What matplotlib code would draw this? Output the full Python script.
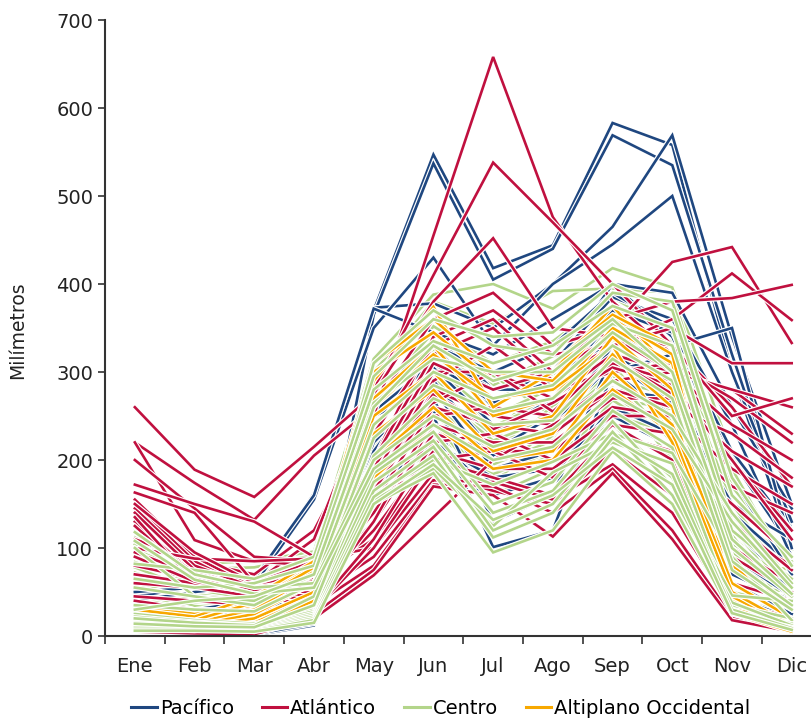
import matplotlib
matplotlib.use("Agg")
import matplotlib.pyplot as plt
import matplotlib.patheffects as pe
from matplotlib.lines import Line2D

plt.rcParams['font.family'] = ['DejaVu Sans']

meses = ["Ene", "Feb", "Mar", "Abr", "May", "Jun", "Jul", "Ago", "Sep", "Oct", "Nov", "Dic"]

# lluvia mensual por estacion (mm)
pacifico = [
    [10, 5, 2, 15, 370, 547, 418, 444, 583, 558, 300, 100],
    [12, 8, 5, 20, 365, 537, 405, 440, 569, 535, 320, 120],
    [45, 55, 60, 162, 373, 378, 350, 400, 465, 569, 340, 150],
    [40, 50, 58, 155, 350, 430, 330, 400, 445, 500, 300, 130],
    [50, 55, 65, 160, 372, 345, 320, 360, 400, 390, 260, 145],
    [25, 20, 15, 90, 300, 345, 280, 300, 400, 340, 200, 100],
    [20, 15, 10, 60, 260, 330, 260, 310, 385, 360, 240, 90],
    [15, 10, 8, 30, 220, 290, 210, 250, 350, 300, 120, 60],
    [5, 3, 1, 12, 180, 250, 101, 120, 300, 250, 80, 30],
    [8, 5, 3, 20, 200, 270, 130, 160, 320, 280, 110, 50],
    [30, 25, 20, 50, 240, 305, 240, 230, 330, 290, 140, 80],
    [35, 30, 40, 80, 280, 330, 300, 330, 390, 350, 180, 70],
    [18, 12, 9, 40, 250, 280, 190, 210, 300, 320, 70, 40],
    [22, 18, 14, 45, 230, 260, 170, 200, 280, 270, 150, 110],
    [10, 6, 4, 25, 190, 230, 160, 180, 260, 230, 60, 25],
    [28, 22, 16, 70, 270, 320, 280, 280, 360, 330, 350, 100],
    [14, 10, 6, 28, 210, 300, 230, 270, 340, 310, 90, 45],
    [24, 16, 12, 35, 235, 255, 205, 240, 310, 265, 100, 55],
    [32, 28, 25, 55, 255, 310, 265, 290, 370, 345, 210, 120],
    [6, 4, 2, 14, 170, 220, 180, 190, 250, 215, 45, 20],
]

atlantico = [
    [110, 85, 70, 120, 250, 455, 658, 476, 380, 320, 200, 120],
    [95, 70, 60, 110, 280, 410, 538, 470, 400, 330, 260, 170],
    [260, 189, 158, 215, 275, 380, 452, 350, 340, 300, 280, 230],
    [220, 174, 132, 205, 260, 360, 390, 330, 350, 425, 442, 333],
    [220, 109, 85, 80, 200, 340, 370, 320, 330, 360, 412, 359],
    [200, 145, 90, 85, 230, 330, 360, 300, 360, 380, 384, 399],
    [172, 150, 130, 90, 180, 300, 300, 270, 320, 300, 280, 260],
    [163, 140, 60, 70, 170, 290, 330, 280, 300, 310, 270, 220],
    [155, 90, 55, 75, 160, 280, 250, 240, 290, 300, 240, 200],
    [150, 85, 50, 70, 150, 260, 240, 230, 280, 260, 230, 180],
    [145, 80, 55, 60, 140, 240, 220, 220, 270, 270, 210, 170],
    [140, 75, 50, 55, 130, 230, 210, 210, 260, 250, 190, 150],
    [130, 70, 45, 50, 120, 210, 190, 190, 240, 230, 170, 140],
    [125, 65, 55, 65, 110, 200, 180, 160, 230, 210, 150, 90],
    [100, 88, 85, 88, 100, 185, 165, 150, 210, 160, 60, 40],
    [80, 65, 50, 45, 90, 177, 175, 155, 195, 140, 30, 10],
    [60, 55, 45, 35, 80, 172, 170, 140, 190, 120, 22, 7],
    [45, 40, 35, 25, 75, 170, 160, 113, 185, 110, 18, 5],
    [5, 3, 2, 20, 69, 135, 200, 240, 280, 260, 100, 60],
    [10, 8, 5, 30, 100, 200, 210, 180, 240, 200, 40, 20],
    [150, 95, 60, 85, 190, 310, 280, 300, 340, 330, 250, 270],
    [135, 60, 50, 75, 200, 320, 350, 290, 330, 350, 310, 310],
    [70, 60, 50, 40, 130, 250, 260, 250, 310, 290, 120, 80],
    [40, 30, 30, 30, 110, 220, 230, 200, 250, 250, 90, 50],
    [118, 72, 52, 62, 175, 275, 235, 265, 305, 285, 200, 110],
    [90, 62, 48, 58, 165, 265, 300, 255, 315, 275, 130, 75],
]

centro = [
    [120, 82, 85, 96, 315, 388, 400, 372, 418, 396, 205, 98],
    [112, 76, 78, 92, 300, 380, 355, 392, 395, 390, 170, 85],
    [104, 62, 70, 88, 250, 352, 310, 335, 385, 345, 110, 82],
    [98, 70, 57, 75, 290, 320, 285, 318, 340, 335, 150, 60],
    [90, 58, 50, 84, 272, 345, 296, 250, 362, 318, 190, 70],
    [84, 60, 46, 72, 230, 326, 268, 298, 300, 305, 132, 90],
    [78, 52, 42, 66, 255, 280, 230, 292, 338, 260, 122, 45],
    [72, 48, 38, 62, 248, 306, 250, 282, 332, 288, 80, 55],
    [68, 42, 36, 56, 210, 292, 238, 270, 322, 282, 104, 52],
    [62, 40, 33, 52, 236, 260, 200, 262, 290, 274, 96, 30],
    [58, 36, 30, 50, 228, 282, 228, 225, 308, 230, 60, 43],
    [52, 34, 29, 46, 190, 276, 222, 248, 270, 258, 86, 75],
    [48, 30, 26, 42, 218, 240, 180, 240, 296, 220, 140, 36],
    [44, 28, 24, 40, 212, 262, 208, 200, 260, 246, 50, 34],
    [40, 26, 22, 38, 180, 256, 175, 228, 282, 200, 70, 65],
    [36, 24, 20, 36, 200, 225, 195, 222, 250, 232, 40, 28],
    [32, 22, 18, 34, 195, 245, 160, 190, 268, 226, 115, 25],
    [28, 20, 16, 32, 170, 210, 184, 210, 240, 180, 58, 50],
    [25, 18, 14, 30, 185, 232, 150, 175, 256, 214, 35, 20],
    [22, 16, 12, 28, 160, 200, 172, 198, 230, 208, 90, 18],
    [18, 14, 10, 26, 175, 222, 140, 165, 244, 170, 46, 40],
    [15, 12, 9, 24, 155, 190, 125, 186, 220, 196, 28, 14],
    [12, 10, 8, 22, 165, 215, 120, 150, 232, 160, 38, 12],
    [10, 9, 7, 20, 150, 185, 95, 120, 210, 150, 25, 10],
    [8, 8, 6, 18, 158, 205, 112, 140, 225, 184, 30, 9],
    [6, 6, 5, 15, 150, 195, 132, 160, 214, 172, 26, 7],
    [100, 45, 40, 70, 310, 370, 330, 320, 390, 380, 180, 80],
    [82, 75, 65, 90, 295, 360, 340, 345, 400, 370, 160, 90],
    [65, 55, 60, 80, 280, 335, 310, 330, 375, 350, 130, 55],
    [55, 45, 35, 70, 265, 315, 300, 300, 355, 330, 120, 65],
    [35, 30, 28, 60, 240, 300, 270, 285, 345, 300, 100, 45],
    [20, 15, 12, 45, 225, 285, 255, 270, 330, 290, 85, 35],
    [14, 11, 10, 35, 205, 270, 240, 245, 315, 270, 75, 30],
    [118, 70, 55, 60, 200, 250, 215, 235, 290, 250, 140, 60],
    [108, 64, 48, 55, 190, 240, 200, 215, 275, 235, 130, 55],
    [30, 40, 45, 70, 260, 330, 290, 310, 360, 300, 110, 48],
]

altiplano = [
    [35, 25, 35, 75, 290, 374, 260, 300, 375, 300, 35, 8],
    [25, 20, 40, 80, 300, 345, 290, 310, 365, 330, 30, 5],
    [20, 15, 30, 70, 270, 330, 250, 270, 350, 310, 40, 6],
    [30, 22, 45, 85, 310, 360, 300, 290, 360, 320, 45, 10],
    [15, 12, 25, 60, 250, 300, 230, 250, 340, 280, 28, 4],
    [12, 10, 20, 50, 230, 280, 210, 230, 320, 260, 25, 5],
    [10, 8, 15, 45, 200, 260, 200, 210, 300, 240, 80, 30],
    [8, 6, 12, 40, 180, 240, 190, 200, 280, 230, 60, 20],
    [22, 18, 38, 78, 260, 320, 270, 280, 330, 220, 50, 12],
]

regiones = ["Pacífico", "Atlántico", "Centro", "Altiplano Occidental"]
colores = ["#1f4780", "#c0103f", "#b3d58a", "#f7a800"]
c_pac, c_atl, c_cen, c_alt = colores

fig = plt.figure(figsize=(8.12, 7.19), dpi=100)
ax = fig.add_axes([105 / 812, 83 / 719, 707 / 812, 616 / 719])

halo = [pe.withStroke(linewidth=3.6, foreground="white")]
x = list(range(12))

# orden de dibujo mezclado, como en el original
capas = [(centro[:18], c_cen), (pacifico, c_pac), (atlantico, c_atl),
         (altiplano, c_alt), (centro[18:], c_cen)]
for datos, col in capas:
    for serie in datos:
        ax.plot(x, serie, color=col, lw=1.9, path_effects=halo, solid_joinstyle="miter")

ax.set_xlim(-0.5, 11.34)
ax.set_ylim(0, 700)
ax.set_yticks(range(0, 701, 100))
ax.set_xticks([i + 0.5 for i in range(-1, 11)])
ax.set_xticklabels([])
ax.set_xticks(x, minor=True)
ax.set_xticklabels(meses, minor=True)
ax.tick_params(axis="x", which="major", length=6, width=1.2, color="#333333")
ax.tick_params(axis="x", which="minor", length=0, pad=15, labelsize=14, labelcolor="#222222")
ax.tick_params(axis="y", length=5, width=1.2, color="#333333", labelsize=14, labelcolor="#222222", pad=3.5)

for s in ["top", "right"]:
    ax.spines[s].set_visible(False)
for s in ["left", "bottom"]:
    ax.spines[s].set_color("#333333")
    ax.spines[s].set_linewidth(1.5)

fig.text(18 / 812, 1 - 330 / 719, "Milímetros", rotation=90, va="center", ha="center",
         fontsize=13.5, color="#222222")

handles = [Line2D([], [], color=c, lw=2.2) for c in colores]
fig.legend(handles, regiones, loc="center", bbox_to_anchor=(441 / 812, 1 - 708 / 719),
           ncol=4, frameon=False, fontsize=14, handlelength=1.3, handletextpad=0.15,
           columnspacing=1.45)

fig.savefig("out.png", dpi=100, facecolor="white")
